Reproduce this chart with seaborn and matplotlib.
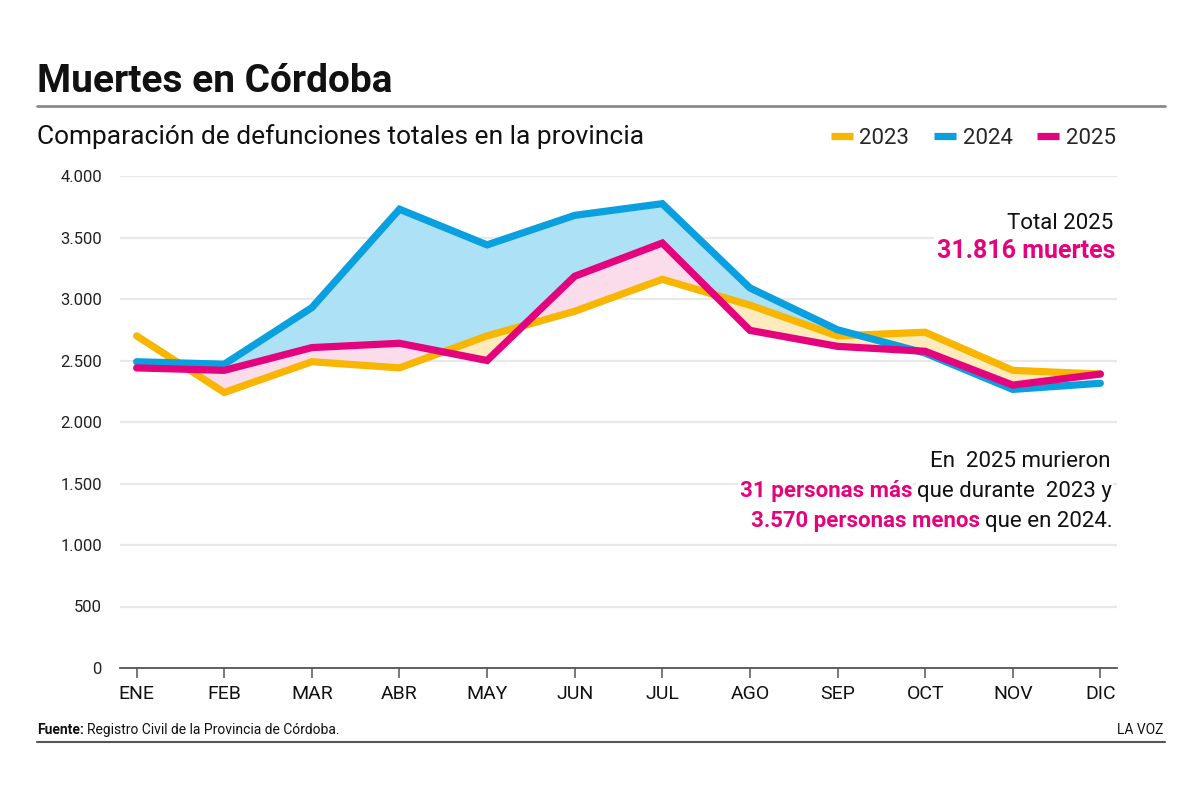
import numpy as np
import pandas as pd
import matplotlib.pyplot as plt
import seaborn as sns
from matplotlib.lines import Line2D

# datos
meses = ["ENE", "FEB", "MAR", "ABR", "MAY", "JUN", "JUL", "AGO", "SEP", "OCT", "NOV", "DIC"]
d2023 = [2700, 2240, 2490, 2440, 2700, 2900, 3160, 2950, 2700, 2730, 2420, 2390]
d2024 = [2490, 2470, 2930, 3730, 3440, 3680, 3775, 3090, 2750, 2560, 2265, 2315]
d2025 = [2440, 2420, 2605, 2640, 2500, 3185, 3455, 2745, 2615, 2575, 2300, 2390]
yticks = [0, 500, 1000, 1500, 2000, 2500, 3000, 3500, 4000]

colores = {"2023": "#f8b600", "2024": "#0aa0e0", "2025": "#e4037d"}

df = pd.DataFrame({
    "mes": list(range(12)) * 3,
    "valor": d2023 + d2024 + d2025,
    "anio": ["2023"] * 12 + ["2024"] * 12 + ["2025"] * 12,
})

sns.set_theme(style="white")
plt.rcParams["font.family"] = ["Roboto", "DejaVu Sans"]

W, H = 1200, 801
fig = plt.figure(figsize=(12, 8.01), dpi=100)
ax = fig.add_axes([120 / W, 1 - 668 / H, (1117 - 120) / W, (668 - 176) / H])

x = np.arange(12)
a23, a24, a25 = np.array(d2023), np.array(d2024), np.array(d2025)
m = x >= 1  # el relleno empieza en FEB
ax.fill_between(x, a24, a25, where=m & (a24 >= a25), interpolate=True, color="#ade1f6", lw=0, zorder=1)
ax.fill_between(x, a25, a23, where=m & (a25 >= a23), interpolate=True, color="#fbdcea", lw=0, zorder=1.1)
ax.fill_between(x, a23, a25, where=m & (a23 >= a25), interpolate=True, color="#fdebbd", lw=0, zorder=1.2)

sns.lineplot(data=df, x="mes", y="valor", hue="anio", palette=colores,
             linewidth=5.2, ax=ax, zorder=3, solid_joinstyle="miter")

ax.set_xlim(-0.19, 11.19)
ax.set_ylim(0, 4000)
ax.set_xticks(x)
ax.set_xticklabels(meses)
ax.set_yticks(yticks)
ax.set_yticklabels([f"{v:,}".replace(",", ".") for v in yticks])
ax.set_xlabel("")
ax.set_ylabel("")
ax.grid(axis="y", color="#e8e8e8", lw=1.6)
ax.set_axisbelow(True)
for s in ["top", "right", "left"]:
    ax.spines[s].set_visible(False)
ax.spines["bottom"].set_color("#555555")
ax.spines["bottom"].set_linewidth(1.3)
ax.tick_params(axis="x", bottom=True, length=7, width=1.1, color="#555555", pad=5,
               labelsize=14, labelcolor="#111111")
ax.tick_params(axis="y", left=False, pad=7, labelsize=12, labelcolor="#222222")

h, l = ax.get_legend_handles_labels()
for hd in h:
    hd.set_solid_capstyle("butt")
ax.legend(h, l, ncol=3, loc="center right", bbox_to_anchor=(1116 / W, 1 - 138 / H),
          bbox_transform=fig.transFigure, frameon=False, fontsize=16,
          handlelength=1.0, handletextpad=0.3, columnspacing=1.1,
          borderaxespad=0, borderpad=0)

# titulos y lineas
fig.text(37 / W, 1 - 92 / H, "Muertes en Córdoba", fontsize=28, fontweight="bold",
         va="baseline", ha="left", color="#111111")
fig.text(37 / W, 1 - 144 / H, "Comparación de defunciones totales en la provincia",
         fontsize=19, va="baseline", ha="left", color="#111111")
fig.add_artist(Line2D([37 / W, 1165 / W], [1 - 106 / H] * 2, color="#8a8a8a", lw=2))
fig.add_artist(Line2D([37 / W, 1165 / W], [1 - 742 / H] * 2, color="#555555", lw=1.5))

rosa = colores["2025"]
fig.text(1113 / W, 1 - 229 / H, "Total 2025", fontsize=16, ha="right", va="baseline",
         color="#111111", bbox=dict(facecolor="white", edgecolor="none", pad=2))
fig.text(1115 / W, 1 - 258 / H, "31.816 muertes", fontsize=18, fontweight="bold",
         ha="right", va="baseline", color=rosa,
         bbox=dict(facecolor="white", edgecolor="none", pad=2))

renderer = fig.canvas.get_renderer()


def linea_derecha(y, partes, xr):
    # coloca trozos de texto alineados a la derecha, de derecha a izquierda
    for texto, color, peso in reversed(partes):
        t = fig.text(xr / W, 1 - y / H, texto, fontsize=16, fontweight=peso, color=color,
                     ha="right", va="baseline",
                     bbox=dict(facecolor="white", edgecolor="none", pad=1))
        bb = t.get_window_extent(renderer)
        xr = bb.x0 - 5


linea_derecha(467, [("En  2025 murieron", "#111111", "normal")], 1110)
linea_derecha(497, [("31 personas más", rosa, "bold"),
                    ("que durante  2023 y", "#111111", "normal")], 1112)
linea_derecha(527, [("3.570 personas menos", rosa, "bold"),
                    ("que en 2024.", "#111111", "normal")], 1113)

# fuente
t = fig.text(37 / W, 1 - 734 / H, "Fuente:", fontsize=10, fontweight="bold",
             ha="left", va="baseline", color="#111111")
bb = t.get_window_extent(renderer)
fig.text((bb.x1 + 3) / W, 1 - 734 / H, "Registro Civil de la Provincia de Córdoba.",
         fontsize=10, ha="left", va="baseline", color="#111111")
fig.text(1163 / W, 1 - 734 / H, "LA VOZ", fontsize=10, ha="right", va="baseline",
         color="#111111")

fig.savefig("out.png", dpi=100, facecolor="white")
